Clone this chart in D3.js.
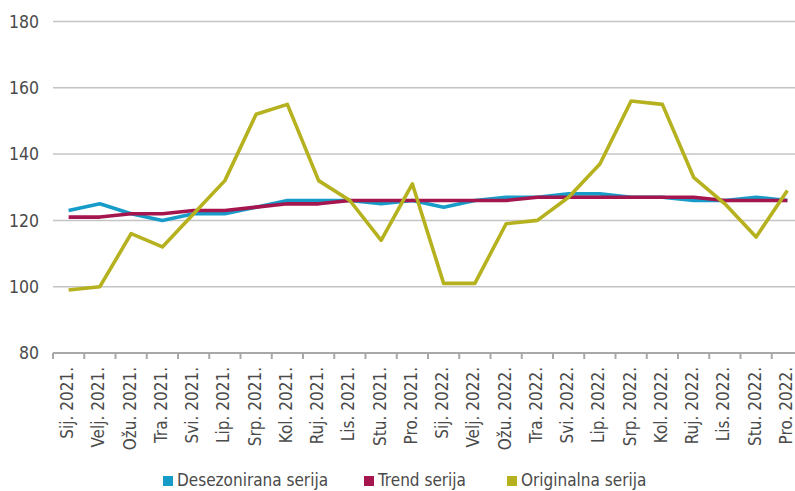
<!DOCTYPE html>
<html><head><meta charset="utf-8">
<script src="https://cdn.jsdelivr.net/npm/d3@7"></script>
<style>
html,body{margin:0;padding:0;background:#fff;}
svg text{font-family:"DejaVu Sans Condensed","Roboto",sans-serif;fill:#4a4a4a;}
</style></head>
<body><svg id="c" width="795" height="491"></svg>
<script>
const categories = ["Sij. 2021.","Velj. 2021.","Ožu. 2021.","Tra. 2021.","Svi. 2021.","Lip. 2021.","Srp. 2021.","Kol. 2021.","Ruj. 2021.","Lis. 2021.","Stu. 2021.","Pro. 2021.",
"Sij. 2022.","Velj. 2022.","Ožu. 2022.","Tra. 2022.","Svi. 2022.","Lip. 2022.","Srp. 2022.","Kol. 2022.","Ruj. 2022.","Lis. 2022.","Stu. 2022.","Pro. 2022."];
const desezonirana = [123,125,122,120,122,122,124,126,126,126,125,126,124,126,127,127,128,128,127,127,126,126,127,126];
const trend = [121,121,122,122,123,123,124,125,125,126,126,126,126,126,126,127,127,127,127,127,127,126,126,126];
const originalna = [99,100,116,112,122,132,152,155,132,126,114,131,101,101,119,120,127,137,156,155,133,125,115,129];
const yTicks = [80,100,120,140,160,180];
const seriesNames = ["Desezonirana serija","Trend serija","Originalna serija"];
const colors = ["#179cc9","#a5164f","#b5b11f"];

(function(){
const svg = d3.select("#c");
const mLeft = 53, mRight = 803, mTop = 21.5, mBottom = 353;
const x = d3.scaleBand().domain(categories).range([mLeft, mRight]);
const y = d3.scaleLinear().domain([80,180]).range([mBottom, mTop]);

const clipW = 795;
svg.append("g").selectAll("line").data(yTicks.filter(d=>d!==80)).join("line")
  .attr("x1", mLeft).attr("x2", clipW).attr("y1", d=>y(d)).attr("y2", d=>y(d))
  .attr("stroke", "#c4c4c4").attr("stroke-width", 1.5);
svg.append("g").selectAll("text").data(yTicks).join("text")
  .attr("x", 39).attr("y", d=>y(d)).attr("dy","0.35em").attr("text-anchor","end")
  .attr("font-size", 17.5).text(d=>d);
svg.append("line").attr("x1", mLeft).attr("x2", clipW).attr("y1", mBottom).attr("y2", mBottom)
  .attr("stroke", "#a8a8a8").attr("stroke-width", 2.2);
const bounds = categories.map(c=>x(c)).concat([mRight]).filter(v=>v<=clipW);
svg.append("g").selectAll("line").data(bounds).join("line")
  .attr("x1", d=>d).attr("x2", d=>d).attr("y1", mBottom).attr("y2", mBottom+6)
  .attr("stroke", "#a8a8a8").attr("stroke-width", 2);
svg.append("g").selectAll("text").data(categories).join("text")
  .attr("transform", d=>`translate(${x(d)+x.bandwidth()/2+4.5},${mBottom+14}) rotate(-90)`)
  .attr("text-anchor","end").attr("font-size", 17).text(d=>d);

const line = d3.line().x((d,i)=>x(categories[i])+x.bandwidth()/2).y(d=>y(d));
[desezonirana, trend, originalna].forEach((s,i)=>{
  svg.append("path").datum(s).attr("d", line).attr("fill","none")
    .attr("stroke", colors[i]).attr("stroke-width", 3.6).attr("stroke-linejoin","round");
});

const legX = [163, 364, 507];
const lg = svg.append("g");
seriesNames.forEach((n,i)=>{
  lg.append("rect").attr("x", legX[i]).attr("y", 476).attr("width", 10).attr("height", 10).attr("fill", colors[i]);
  lg.append("text").attr("x", legX[i]+14).attr("y", 480).attr("dy","0.35em").attr("font-size", 17).text(n);
});
})();
</script></body></html>
